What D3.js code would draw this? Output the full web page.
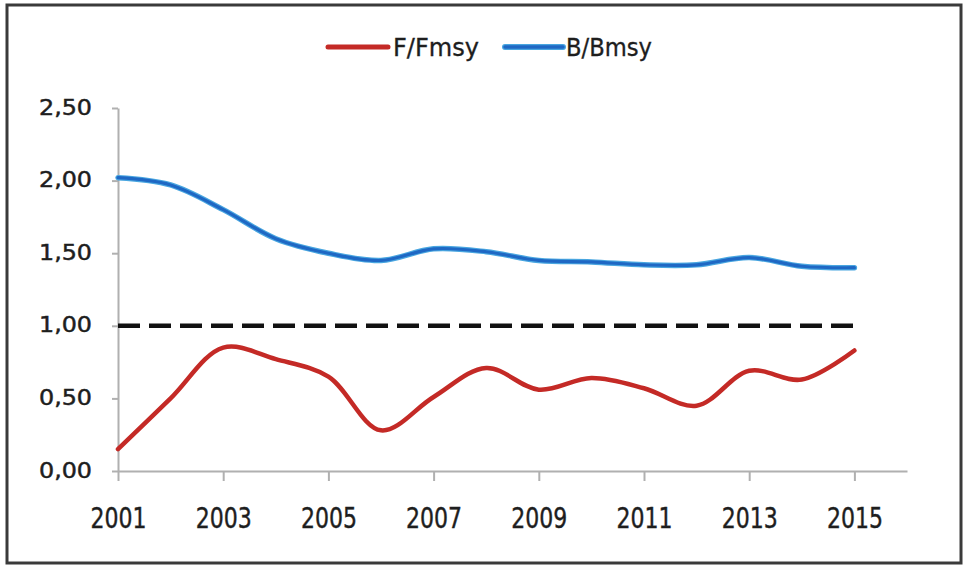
<!DOCTYPE html>
<html>
<head>
<meta charset="utf-8">
<script src="https://cdn.jsdelivr.net/npm/d3@7"></script>
<style>
html,body{margin:0;padding:0;background:#fff;}
svg{display:block;}
</style>
</head>
<body>
<svg id="chart" width="963" height="566"></svg>
<script>
const years = [2001,2002,2003,2004,2005,2006,2007,2008,2009,2010,2011,2012,2013,2014,2015];
const fFmsy = [0.15,0.50,0.85,0.77,0.65,0.28,0.51,0.71,0.56,0.64,0.57,0.45,0.69,0.63,0.83];
const bBmsy = [2.02,1.97,1.80,1.60,1.50,1.45,1.53,1.51,1.45,1.44,1.42,1.42,1.47,1.41,1.40];
const refLevel = 1.0;
const yTicks = [0,0.5,1,1.5,2,2.5];
const xTicks = [2001,2003,2005,2007,2009,2011,2013,2015];
const seriesNames = ["F/Fmsy","B/Bmsy"];

const svg = d3.select("#chart");

// outer frame
svg.append("rect").attr("x",7).attr("y",5).attr("width",954).attr("height",558)
  .attr("fill","#fff").attr("stroke","#3a3a3a").attr("stroke-width",3);

const x = d3.scaleLinear().domain([2001,2016]).range([118,907]);
const y = d3.scaleLinear().domain([0,2.5]).range([471,108]);

const axisColor = "#b0b0b0";
const textColor = "#1e1e1e";

// y axis
const yAxis = svg.append("g").attr("transform","translate(118,0)")
  .call(d3.axisLeft(y).tickValues(yTicks).tickSize(6).tickSizeOuter(0).tickFormat(d => d3.format(".2f")(d).replace(".",",")));
yAxis.select(".domain").attr("stroke",axisColor).attr("stroke-width",2);
yAxis.selectAll(".tick line").attr("stroke",axisColor).attr("stroke-width",2);
yAxis.selectAll(".tick text")
  .attr("x",-26).attr("dy","0.28em")
  .attr("font-family","'DejaVu Sans', sans-serif").attr("font-size",22)
  .attr("fill",textColor).attr("stroke",textColor).attr("stroke-width",0.5)
  .attr("textLength",53).attr("lengthAdjust","spacingAndGlyphs");

// x axis
const xAxis = svg.append("g").attr("transform","translate(0,471)")
  .call(d3.axisBottom(x).tickValues(xTicks).tickSize(10).tickSizeOuter(0).tickFormat(d3.format("d")));
xAxis.select(".domain").attr("stroke",axisColor).attr("stroke-width",2);
xAxis.selectAll(".tick line").attr("stroke",axisColor).attr("stroke-width",2);
xAxis.selectAll(".tick text")
  .attr("y",57).attr("dy",0)
  .attr("font-family","'Liberation Sans Narrow','DejaVu Sans Condensed', sans-serif").attr("font-size",29)
  .attr("fill",textColor).attr("stroke",textColor).attr("stroke-width",0.4)
  .attr("textLength",56).attr("lengthAdjust","spacingAndGlyphs");

// reference line at 1.0
svg.append("line")
  .attr("x1",x(2001)).attr("x2",x(2015))
  .attr("y1",y(refLevel)).attr("y2",y(refLevel))
  .attr("stroke","#111").attr("stroke-width",4.5)
  .attr("stroke-dasharray","22,9");

const line = d3.line().curve(d3.curveCatmullRom.alpha(0.5))
  .x((d,i) => x(years[i])).y(d => y(d));

const redColor = "#c42a26";
const blueColor = "#1f68c4";
const blueHalo = "#49a6e0";

svg.append("path").datum(bBmsy).attr("d",line)
  .attr("fill","none").attr("stroke",blueHalo).attr("stroke-width",5.5).attr("stroke-linecap","round");
svg.append("path").datum(bBmsy).attr("d",line)
  .attr("fill","none").attr("stroke",blueColor).attr("stroke-width",3.2).attr("stroke-linecap","round");

svg.append("path").datum(fFmsy).attr("d",line)
  .attr("fill","none").attr("stroke",redColor).attr("stroke-width",4.5).attr("stroke-linecap","round");

// legend
const legend = [
  {name: seriesNames[0], x1: 328, x2: 388, tx: 393, color: redColor, halo: null},
  {name: seriesNames[1], x1: 505, x2: 563, tx: 566, color: blueColor, halo: blueHalo}
];
legend.forEach(l => {
  if (l.halo) svg.append("line").attr("x1",l.x1).attr("x2",l.x2).attr("y1",47).attr("y2",47)
    .attr("stroke",l.halo).attr("stroke-width",6).attr("stroke-linecap","round");
  svg.append("line").attr("x1",l.x1).attr("x2",l.x2).attr("y1",47).attr("y2",47)
    .attr("stroke",l.color).attr("stroke-width",l.halo?3.5:5).attr("stroke-linecap","round");
  svg.append("text").attr("x",l.tx).attr("y",56).text(l.name)
    .attr("font-family","'Liberation Sans Narrow','DejaVu Sans Condensed', sans-serif")
    .attr("font-size",25).attr("fill",textColor).attr("stroke",textColor).attr("stroke-width",0.3)
    .attr("textLength",86).attr("lengthAdjust","spacingAndGlyphs");
});
</script>
</body>
</html>
